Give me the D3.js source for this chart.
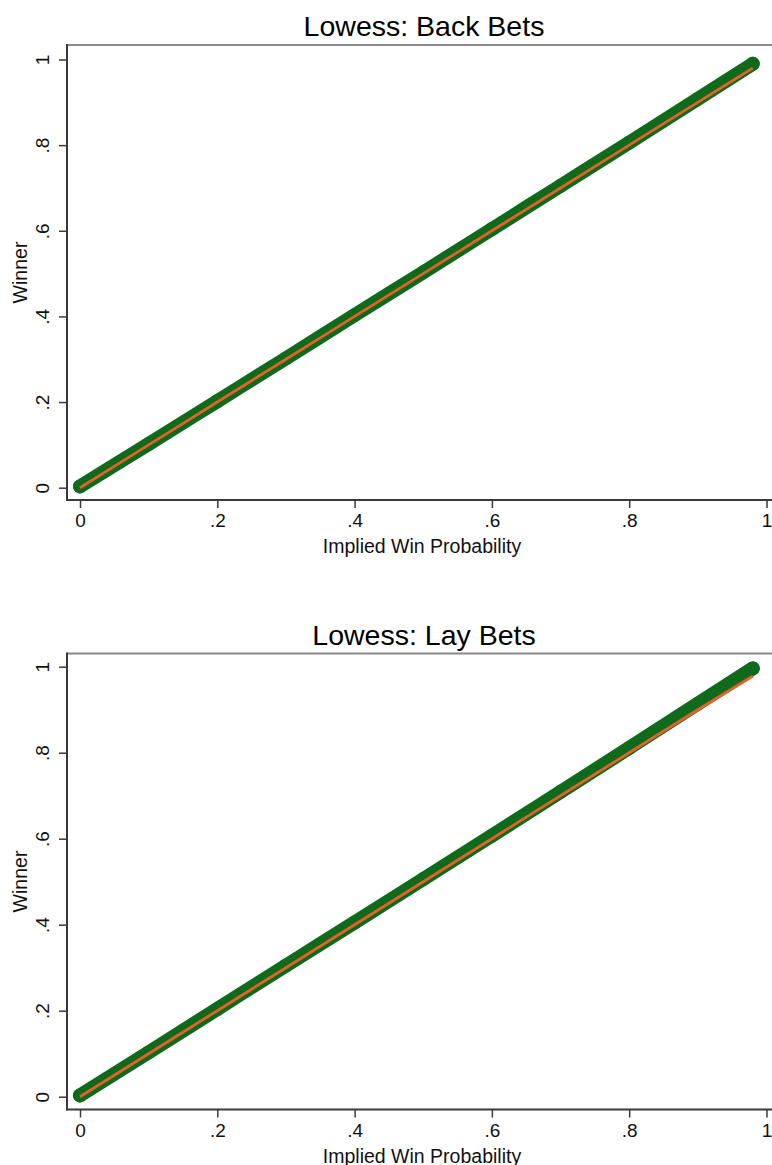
<!DOCTYPE html>
<html>
<head>
<meta charset="utf-8">
<script src="https://cdn.jsdelivr.net/npm/d3@7"></script>
<style>
  html, body { margin: 0; padding: 0; background: #fff; }
  svg { display: block; font-family: "Liberation Sans", Arial, Helvetica, sans-serif; }
</style>
</head>
<body>
<svg id="chart" width="772" height="1165"></svg>
<script>
// ---- data ----
const impliedProb = [0, 0.1, 0.2, 0.3, 0.4, 0.5, 0.6, 0.7, 0.8, 0.9, 0.98];
const backLowess  = [0.003, 0.102, 0.202, 0.302, 0.403, 0.503, 0.604, 0.705, 0.806, 0.908, 0.99];
const backLine    = [0, 0.1, 0.2, 0.3, 0.4, 0.5, 0.6, 0.7, 0.8, 0.9, 0.98];
const layLowess   = [0.003, 0.103, 0.204, 0.305, 0.405, 0.506, 0.607, 0.709, 0.811, 0.914, 0.996];
const layLine     = [0, 0.1, 0.2, 0.3, 0.4, 0.5, 0.6, 0.7, 0.8, 0.9, 0.978];
const tickValues  = [0, 0.2, 0.4, 0.6, 0.8, 1];
const tickLabels  = ["0", ".2", ".4", ".6", ".8", "1"];
const titles      = ["Lowess: Back Bets", "Lowess: Lay Bets"];
const xTitle      = "Implied Win Probability";
const yTitle      = "Winner";

const panels = [
  { title: titles[0], lowess: backLowess, line: backLine, frameTop: 45, frameBottom: 500, y0: 487.7, y1: 59.5 },
  { title: titles[1], lowess: layLowess,  line: layLine,  frameTop: 653.5, frameBottom: 1109.5, y0: 1096.7, y1: 666.7 }
];

const svg = d3.select("#chart");
const frameLeft = 67, frameRight = 790;
const x = d3.scaleLinear().domain([0, 1]).range([80, 766.5]);
const fmt = v => tickLabels[tickValues.indexOf(v)];
const green = "#106a1c", orange = "#e3622c";

panels.forEach(p => {
  const y = d3.scaleLinear().domain([0, 1]).range([p.y0, p.y1]);
  const g = svg.append("g");

  // frame top
  g.append("line").attr("x1", frameLeft).attr("x2", frameRight)
    .attr("y1", p.frameTop).attr("y2", p.frameTop)
    .attr("stroke", "#8a8a8a").attr("stroke-width", 2);

  // data
  const pts = impliedProb.map((v, i) => [v, p.lowess[i]]);
  const ref = impliedProb.map((v, i) => [v, p.line[i]]);
  const lineGen = d3.line().curve(d3.curveMonotoneX).x(d => x(d[0])).y(d => y(d[1]));
  g.append("path").attr("d", lineGen(pts)).attr("fill", "none")
    .attr("stroke", green).attr("stroke-width", 14)
    .attr("stroke-linecap", "round").attr("stroke-linejoin", "round");
  g.selectAll("circle.pt").data(pts).enter().append("circle")
    .attr("cx", d => x(d[0])).attr("cy", d => y(d[1])).attr("r", 7).attr("fill", green);
  g.append("path").attr("d", lineGen(ref)).attr("fill", "none")
    .attr("stroke", orange).attr("stroke-width", 2.8);

  // x axis
  const xAxis = d3.axisBottom(x).tickValues(tickValues).tickFormat(fmt).tickSize(8).tickPadding(6).tickSizeOuter(0);
  const xg = g.append("g").attr("transform", `translate(0,${p.frameBottom})`).call(xAxis);
  xg.select(".domain").remove();
  xg.append("line").attr("x1", frameLeft - 1).attr("x2", frameRight)
    .attr("y1", 0).attr("y2", 0).attr("stroke", "#3a3a3a").attr("stroke-width", 2);
  xg.selectAll(".tick line").attr("stroke", "#3a3a3a").attr("stroke-width", 1.5);
  xg.selectAll(".tick text").attr("font-size", 19).attr("fill", "#111")
    .attr("font-family", "Liberation Sans, Arial, sans-serif");

  // y axis
  const yAxis = d3.axisLeft(y).tickValues(tickValues).tickFormat(fmt).tickSize(8).tickSizeOuter(0);
  const yg = g.append("g").attr("transform", `translate(${frameLeft},0)`).call(yAxis);
  yg.select(".domain").remove();
  yg.append("line").attr("x1", 0).attr("x2", 0)
    .attr("y1", p.frameTop - 1).attr("y2", p.frameBottom + 1).attr("stroke", "#3a3a3a").attr("stroke-width", 2);
  yg.selectAll(".tick line").attr("stroke", "#3a3a3a").attr("stroke-width", 1.5);
  yg.selectAll(".tick text")
    .attr("x", null).attr("dy", null)
    .attr("transform", "translate(-18,0) rotate(-90)")
    .attr("text-anchor", "middle")
    .attr("font-size", 19).attr("fill", "#111")
    .attr("font-family", "Liberation Sans, Arial, sans-serif");

  // titles
  g.append("text").attr("x", 424).attr("y", p.frameTop - 9)
    .attr("text-anchor", "middle").attr("font-size", 28.5).attr("fill", "#000")
    .text(p.title);
  g.append("text").attr("x", 422).attr("y", p.frameBottom + 53)
    .attr("text-anchor", "middle").attr("font-size", 19.5).attr("fill", "#111")
    .text(xTitle);
  g.append("text")
    .attr("transform", `translate(27,${(p.frameTop + p.frameBottom) / 2}) rotate(-90)`)
    .attr("text-anchor", "middle").attr("font-size", 19.5).attr("fill", "#111")
    .text(yTitle);
});
</script>
</body>
</html>
